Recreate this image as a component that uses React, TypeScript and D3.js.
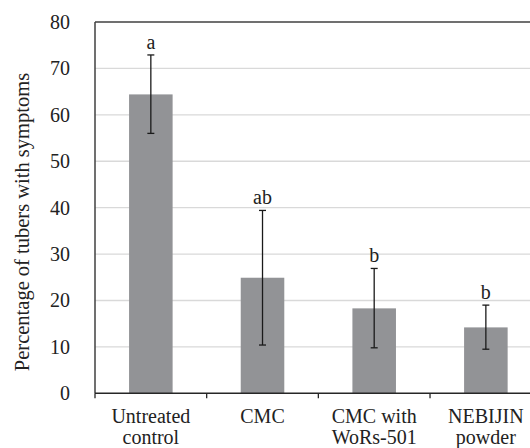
import React from "react";
import * as d3 from "d3";

const categories: string[][] = [
  ["Untreated", "control"],
  ["CMC"],
  ["CMC with", "WoRs-501"],
  ["NEBIJIN", "powder"],
];
const means = [64.4, 24.9, 18.3, 14.2];
const errLow = [56.0, 10.4, 9.8, 9.5];
const errHigh = [72.9, 39.4, 26.9, 19.0];
const letters = ["a", "ab", "b", "b"];
const yTicks = [0, 10, 20, 30, 40, 50, 60, 70, 80];
const yTitle = "Percentage of tubers with symptoms";

export default function App() {
  const W = 530;
  const H = 448;
  const left = 95;
  const right = 541.7;
  const top = 22;
  const bottom = 393.3;
  const font = "'Liberation Serif', 'Times New Roman', serif";

  const y = d3.scaleLinear().domain([0, 80]).range([bottom, top]);
  const x = d3
    .scaleBand<number>()
    .domain(categories.map((_, i) => i))
    .range([left, right])
    .paddingInner(0.61)
    .paddingOuter(0.305);
  const step = x.step();
  const boundaries = d3.range(categories.length + 1).map((i) => left + i * step);

  return (
    <svg
      width={W}
      height={H}
      style={{ position: "absolute", left: 0, top: 0, background: "#fff", fontFamily: font }}
    >
      {yTicks.map((t) =>
        t > 0 && t < 80 ? (
          <line key={"g" + t} x1={left} x2={W} y1={y(t)} y2={y(t)} stroke="#d9d9d9" strokeWidth={1.3} />
        ) : null
      )}
      {means.map((m, i) => (
        <rect
          key={"b" + i}
          x={x(i)!}
          y={y(m)}
          width={x.bandwidth()}
          height={bottom - y(m)}
          fill="#929396"
        />
      ))}
      {means.map((m, i) => {
        const cx = x(i)! + x.bandwidth() / 2;
        return (
          <g key={"e" + i} stroke="#1a1a1a" strokeWidth={1.3}>
            <line x1={cx} x2={cx} y1={y(errLow[i])} y2={y(errHigh[i])} />
            <line x1={cx - 3.5} x2={cx + 3.5} y1={y(errLow[i])} y2={y(errLow[i])} />
            <line x1={cx - 3.5} x2={cx + 3.5} y1={y(errHigh[i])} y2={y(errHigh[i])} />
          </g>
        );
      })}
      {letters.map((l, i) => (
        <text
          key={"l" + i}
          x={x(i)! + x.bandwidth() / 2}
          y={y(errHigh[i]) - 6}
          textAnchor="middle"
          fontSize={20}
          fill="#222"
          style={{ fontFamily: font }}
        >
          {l}
        </text>
      ))}
      {/* frame */}
      <line x1={left} x2={W} y1={top} y2={top} stroke="#404040" strokeWidth={1.5} />
      <line x1={left} x2={left} y1={top} y2={bottom} stroke="#404040" strokeWidth={1.5} />
      <line x1={left} x2={W} y1={bottom} y2={bottom} stroke="#262626" strokeWidth={1.5} />
      {boundaries.map((b, i) => (
        <line key={"t" + i} x1={b} x2={b} y1={bottom} y2={bottom + 5} stroke="#262626" strokeWidth={1.3} />
      ))}
      {yTicks.map((t) => (
        <text
          key={"yl" + t}
          x={70}
          y={y(t)}
          dy="0.35em"
          textAnchor="end"
          fontSize={20}
          fill="#222"
          style={{ fontFamily: font }}
        >
          {t}
        </text>
      ))}
      {categories.map((lines, i) => (
        <text
          key={"c" + i}
          x={x(i)! + x.bandwidth() / 2}
          textAnchor="middle"
          fontSize={20}
          fill="#222"
          style={{ fontFamily: font }}
        >
          {lines.map((ln, j) => (
            <tspan key={j} x={x(i)! + x.bandwidth() / 2} y={423 + j * 20.5}>
              {ln}
            </tspan>
          ))}
        </text>
      ))}
      <text
        transform={`translate(29, 222) rotate(-90)`}
        textAnchor="middle"
        fontSize={20.5}
        fill="#222"
        style={{ fontFamily: font }}
      >
        {yTitle}
      </text>
    </svg>
  );
}
